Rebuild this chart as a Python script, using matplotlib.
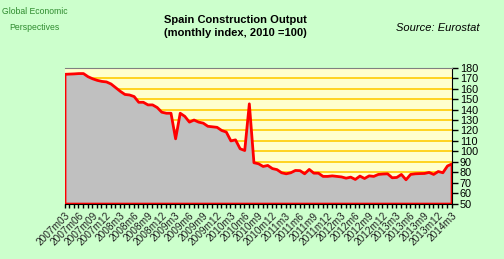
import numpy as np
import matplotlib
matplotlib.use("Agg")
import matplotlib.pyplot as plt

plt.rcParams['font.family'] = ['Liberation Sans', 'DejaVu Sans']

# monthly index, 2007m03 .. 2014m3 (85 months)
output = [
    174.3, 174.5, 174.7, 175.0, 175.0, 172.0, 170.0, 168.5, 167.5, 167.0,
    165.0, 161.5, 158.0, 155.0, 154.5, 153.0, 147.5, 147.5, 145.0, 145.0,
    142.5, 138.0, 137.0, 137.0, 112.5, 137.0, 134.0, 128.5, 130.5, 128.5,
    127.5, 124.5, 124.0, 123.5, 120.5, 119.0, 110.5, 111.5, 103.0, 101.3,
    146.0, 89.6, 88.6, 86.0, 87.0, 84.0, 83.0, 80.0, 79.0, 80.0,
    82.2, 82.0, 79.0, 83.2, 79.6, 79.6, 76.5, 76.5, 77.0, 76.5,
    76.0, 74.8, 75.8, 73.6, 76.8, 74.5, 77.0, 76.5, 78.4, 78.8,
    79.0, 75.2, 75.5, 78.4, 73.3, 78.4, 79.0, 79.2, 79.3, 80.3,
    78.4, 81.2, 80.0, 86.5, 88.5,
]
tick_labels = [
    "2007m03", "2007m06", "2007m09", "2007m12",
    "2008m3", "2008m6", "2008m9", "2008m12",
    "2009m3", "2009m6", "2009m9", "2009m12",
    "2010m3", "2010m6", "2010m9", "2010m12",
    "2011m3", "2011m6", "2011m9", "2011m12",
    "2012m3", "2012m6", "2012m9", "2012m12",
    "2013m3", "2013m6", "2013m9", "2013m12",
    "2014m3",
]
y_ticks = list(range(50, 190, 10))

x = np.arange(len(output))

fig = plt.figure(figsize=(5.04, 2.59), dpi=100, facecolor="#ccffcc")
ax = fig.add_axes([0.128, 0.214, 0.768, 0.524])
ax.set_facecolor("#ffffcc")

for yv in y_ticks[1:-1]:
    ax.axhline(yv, color="#ffcc00", lw=1.2, zorder=1)

ax.fill_between(x, output, 50, facecolor="#c0c0c0", edgecolor="#ff0000",
                lw=2, zorder=2)

ax.set_xlim(0, len(output) - 1)
ax.set_ylim(50, 180)

# y axis on the right
ax.yaxis.tick_right()
ax.set_yticks(y_ticks)
ax.tick_params(axis="y", direction="out", length=4, width=1, labelsize=7.8,
               pad=2, colors="black")

ax.set_xticks(x[::3])
ax.set_xticks(x, minor=True)
ax.set_xticklabels(tick_labels, rotation=45, ha="right", rotation_mode="anchor",
                   fontsize=7.3, color="#222222")
ax.tick_params(axis="x", which="both", direction="out", length=3, width=1, pad=2)

ax.spines["top"].set_color("#808080")
ax.spines["left"].set_visible(False)
ax.spines["right"].set_color("black")
ax.spines["bottom"].set_color("black")

fig.text(0.468, 0.923, "Spain Construction Output", ha="center", va="center",
         fontsize=8, fontweight="bold")
fig.text(0.468, 0.872, "(monthly index, 2010 =100)", ha="center", va="center",
         fontsize=8, fontweight="bold")
fig.text(0.869, 0.892, "Source: Eurostat", ha="center", va="center",
         fontsize=8, style="italic")
fig.text(0.004, 0.955, "Global Economic", ha="left", va="center",
         fontsize=6.2, color="#2e8b2e")
fig.text(0.018, 0.895, "Perspectives", ha="left", va="center",
         fontsize=6.2, color="#2e8b2e")

fig.savefig("out.png", dpi=100, facecolor=fig.get_facecolor())
